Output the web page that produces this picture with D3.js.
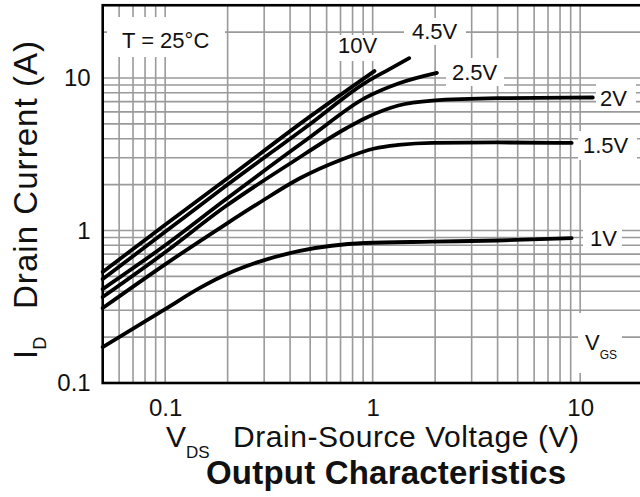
<!DOCTYPE html>
<html>
<head>
<meta charset="utf-8">
<script src="https://cdn.jsdelivr.net/npm/d3@7"></script>
<style>
  html, body { margin: 0; padding: 0; background: #fff; }
  svg { display: block; }
  text { font-family: "Liberation Sans", Arial, Helvetica, sans-serif; fill: #111; }
</style>
</head>
<body>
<svg id="chart" width="640" height="497"></svg>
<script>
// ---- data ----
const seriesNames = ["10V", "4.5V", "2.5V", "2V", "1.5V", "1V"];
const vds10V  = [0.05, 0.1, 0.2, 0.5, 1.02];
const id10V   = [0.535, 1.09, 2.2, 5.6, 11.1];
const vds4_5V = [0.05, 0.1, 0.2, 0.5, 0.92, 1.2, 1.5];
const id4_5V  = [0.48, 0.98, 2.0, 5.0, 9.3, 11.4, 13.5];
const vds2_5V = [0.05, 0.1, 0.194, 0.5, 0.92, 1.33, 2.04];
const id2_5V  = [0.413, 0.8, 1.585, 4.1, 7.4, 9.2, 10.8];
const vds2V   = [0.05, 0.1, 0.194, 0.4, 0.75, 0.92, 1.33, 1.94, 4.0, 11.5];
const id2V    = [0.366, 0.72, 1.43, 2.75, 4.7, 5.45, 6.6, 7.1, 7.37, 7.45];
const vds1_5V = [0.05, 0.1, 0.194, 0.28, 0.446, 0.7, 1.02, 1.33, 1.94, 4.0, 9.1];
const id1_5V  = [0.31, 0.6, 1.09, 1.5, 2.2, 2.9, 3.45, 3.64, 3.76, 3.78, 3.75];
const vds1V   = [0.05, 0.1, 0.147, 0.2, 0.28, 0.446, 0.92, 1.94, 4.0, 9.1];
const id1V    = [0.172, 0.305, 0.42, 0.52, 0.62, 0.735, 0.828, 0.845, 0.86, 0.89];

const xDomain = [0.05, 20];
const yDomain = [0.1, 30];
const xTickValues = [0.1, 1, 10];
const xTickLabels = ["0.1", "1", "10"];
const yTickValues = [0.1, 1, 10];
const yTickLabels = ["0.1", "1", "10"];

const xTitleMain = "V", xTitleSub = "DS", xTitleRest = "Drain-Source Voltage (V)";
const yTitleMain = "I", yTitleSub = "D", yTitleRest = "Drain Current (A)";
const chartTitle = "Output Characteristics";
const tempNote = "T = 25°C";

// ---- layout ----
const FONT = '"Liberation Sans", Arial, Helvetica, sans-serif';
const svg = d3.select("#chart");
const left = 102.7, bottom = 383;
const decX = 207.5, decY = 152.5;
const x = d3.scaleLog().domain(xDomain)
  .range([left, left + decX * Math.log10(xDomain[1] / xDomain[0])]);
const y = d3.scaleLog().domain(yDomain)
  .range([bottom, bottom - decY * Math.log10(yDomain[1] / yDomain[0])]);

const series = [
  { name: "10V",  vds: vds10V,  id: id10V },
  { name: "4.5V", vds: vds4_5V, id: id4_5V },
  { name: "2.5V", vds: vds2_5V, id: id2_5V },
  { name: "2V",   vds: vds2V,   id: id2V },
  { name: "1.5V", vds: vds1_5V, id: id1_5V },
  { name: "1V",   vds: vds1V,   id: id1V }
];

// grid
const gGrid = svg.append("g");
x.ticks().filter(v => v > xDomain[0] * 1.0001).forEach(v => {
  gGrid.append("line").attr("x1", x(v)).attr("x2", x(v))
    .attr("y1", y(yDomain[1])).attr("y2", y(yDomain[0]))
    .attr("stroke", "#9a9a9a").attr("stroke-width", 1.6);
});
y.ticks().filter(v => v > yDomain[0] * 1.0001 && v < yDomain[1] * 0.999).forEach(v => {
  gGrid.append("line").attr("y1", y(v)).attr("y2", y(v))
    .attr("x1", x(xDomain[0])).attr("x2", x(xDomain[1]))
    .attr("stroke", "#9a9a9a").attr("stroke-width", 1.6);
});

// white boxes behind annotation labels
const boxes = [
  [107, 17, 118, 40],   // T = 25°C
  [333, 35, 51, 26],    // 10V
  [404, 18, 62, 27],    // 4.5V
  [446, 58, 58, 28],    // 2.5V
  [596, 84, 40, 27],    // 2V
  [578, 131, 59, 29],   // 1.5V
  [583, 224, 39, 28],   // 1V
  [578, 313, 44, 60]    // VGS
];
boxes.forEach(b => svg.append("rect").attr("x", b[0]).attr("y", b[1])
  .attr("width", b[2]).attr("height", b[3]).attr("fill", "#fff"));

// curves
const line = d3.line().x(d => x(d[0])).y(d => y(d[1])).curve(d3.curveMonotoneX);
series.forEach(s => {
  svg.append("path").datum(s.vds.map((v, i) => [v, s.id[i]]))
    .attr("d", line).attr("fill", "none")
    .attr("stroke", "#000").attr("stroke-width", 3.8)
    .attr("stroke-linecap", "round").attr("stroke-linejoin", "round");
});

// frame
svg.append("rect").attr("x", x(xDomain[0])).attr("y", y(yDomain[1]))
  .attr("width", x(xDomain[1]) - x(xDomain[0])).attr("height", y(yDomain[0]) - y(yDomain[1]))
  .attr("fill", "none").attr("stroke", "#000").attr("stroke-width", 2.6);

// axes (labels only)
const xAxis = d3.axisBottom(x).tickValues(xTickValues).tickSize(0).tickPadding(16)
  .tickFormat((d, i) => xTickLabels[i]);
const gx = svg.append("g").attr("transform", `translate(0,${bottom})`).call(xAxis);
gx.select(".domain").remove();
gx.selectAll("text").attr("font-size", 24).style("font-family", FONT).attr("fill", "#111");

const yAxis = d3.axisLeft(y).tickValues(yTickValues).tickSize(0).tickPadding(12)
  .tickFormat((d, i) => yTickLabels[i]);
const gy = svg.append("g").attr("transform", `translate(${left},0)`).call(yAxis);
gy.select(".domain").remove();
gy.selectAll("text").attr("font-size", 24).style("font-family", FONT).attr("fill", "#111");

// series labels
const labelPos = {
  "10V": [338, 53], "4.5V": [412, 39], "2.5V": [452, 80],
  "2V": [600, 106], "1.5V": [583, 153], "1V": [590, 246]
};
seriesNames.forEach(n => {
  svg.append("text").attr("x", labelPos[n][0]).attr("y", labelPos[n][1])
    .attr("font-size", 22).text(n);
});
const vg = svg.append("text").attr("x", 585).attr("y", 350).attr("font-size", 22);
vg.append("tspan").text("V");
vg.append("tspan").attr("font-size", 12).attr("dy", 9).text("GS");

svg.append("text").attr("x", 122).attr("y", 48).attr("font-size", 22).text(tempNote);

// x title
const xt = svg.append("text").attr("x", 166).attr("y", 447).attr("font-size", 30);
xt.append("tspan").text(xTitleMain);
xt.append("tspan").attr("font-size", 17).attr("dy", 11).text(xTitleSub);
svg.append("text").attr("x", 233).attr("y", 447).attr("font-size", 30)
  .attr("textLength", 346).attr("lengthAdjust", "spacing").text(xTitleRest);

// y title
const yt = svg.append("text").attr("transform", "translate(37,359) rotate(-90)")
  .attr("font-size", 33);
yt.append("tspan").text(yTitleMain);
yt.append("tspan").attr("font-size", 18).attr("dy", 9).text(yTitleSub);
svg.append("text").attr("transform", "translate(37,309) rotate(-90)")
  .attr("font-size", 33).attr("textLength", 268).attr("lengthAdjust", "spacing")
  .text(yTitleRest);

// chart title
svg.append("text").attr("x", 386).attr("y", 484).attr("text-anchor", "middle")
  .attr("font-size", 33).attr("font-weight", "bold")
  .attr("textLength", 360).attr("lengthAdjust", "spacing").text(chartTitle);
</script>
</body>
</html>
